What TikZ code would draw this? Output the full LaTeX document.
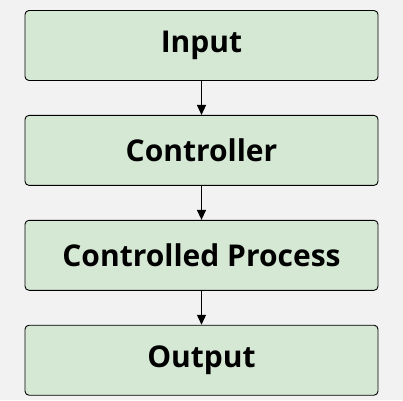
\documentclass[tikz,border=0pt]{standalone}
\usepackage{fontspec}
\setmainfont{Open Sans}
\usetikzlibrary{arrows.meta,positioning}

\definecolor{boxgreen}{HTML}{D5E8D4}
\definecolor{bggray}{HTML}{F2F2F2}

\begin{document}
\begin{tikzpicture}[x=1pt,y=1pt,>={Triangle[length=10pt,width=9pt]},
    stage/.style={draw=black,fill=boxgreen,rounded corners=4pt,line width=0.9pt,
      minimum width=353pt,minimum height=70pt,inner sep=0pt,
      font=\fontsize{30}{34}\selectfont\bfseries},
    flow/.style={->,line width=1.3pt}]
        \fill[bggray] (0,0) rectangle (403,400);
        \useasboundingbox (0,0) rectangle (403,400);
        \node [stage] (input) at (201.5,354.5) {Input};
        \node [stage,below=34pt of input] (controller) {Controller};
        \node [stage,below=34pt of controller] (process) {Controlled Process};
        \node [stage,below=34pt of process] (output) {Output};
        % arrows
        \draw [flow] (input) -- (controller);
        \draw [flow] (controller) -- (process);
        \draw [flow] (process) -- (output);
\end{tikzpicture}
\end{document}
